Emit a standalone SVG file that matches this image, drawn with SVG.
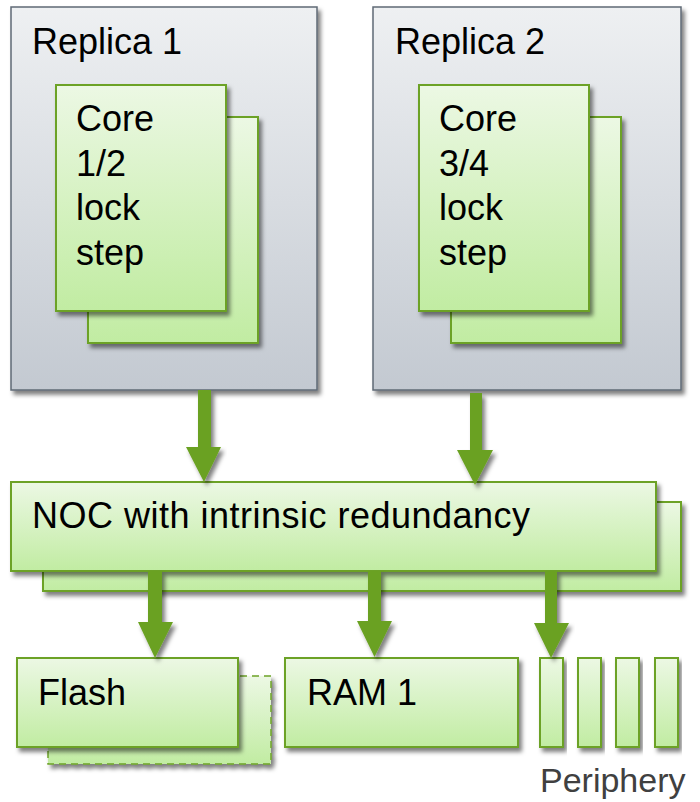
<svg xmlns="http://www.w3.org/2000/svg" width="700" height="802" viewBox="0 0 700 802" font-family="Liberation Sans, Arimo, Arial, Helvetica, sans-serif">
  <defs>
    <linearGradient id="gray" x1="0" y1="0" x2="0" y2="1">
      <stop offset="0" stop-color="#eef0f2"/>
      <stop offset="1" stop-color="#c3c9d1"/>
    </linearGradient>
    <linearGradient id="green" x1="0" y1="0" x2="0" y2="1">
      <stop offset="0" stop-color="#ecf8e4"/>
      <stop offset="1" stop-color="#c1eca2"/>
    </linearGradient>
    <filter id="shadow" x="-10%" y="-10%" width="125%" height="130%">
      <feDropShadow dx="3" dy="4" stdDeviation="2.2" flood-color="#000" flood-opacity="0.5"/>
    </filter>
  </defs>
  <style>
    .replica { fill: url(#gray); stroke: #5f6a75; stroke-width: 1.5; filter: url(#shadow); }
    .block { fill: url(#green); stroke: #6ca226; stroke-width: 2; filter: url(#shadow); }
    .dashed { fill: url(#green); stroke: #6ca226; stroke-width: 1.5; stroke-dasharray: 7 5; filter: url(#shadow); }
    .label { font-size: 36px; fill: #000; }
    .caption { font-size: 34px; fill: #404040; }
    .arrow { fill: #6aa121; filter: url(#shadow); }
  </style>

  <!-- Replica 1 with lock-step core pair -->
  <g id="replica1">
    <rect class="replica" x="11" y="7" width="306" height="383"/>
    <text class="label" x="32" y="54">Replica 1</text>
    <rect class="block" x="88" y="117" width="170" height="226"/>
    <rect class="block" x="56" y="85" width="170" height="226"/>
    <text class="label" x="76" y="131">Core</text>
    <text class="label" x="76" y="176">1/2</text>
    <text class="label" x="76" y="220">lock</text>
    <text class="label" x="76" y="265">step</text>
  </g>

  <!-- Replica 2 with lock-step core pair -->
  <g id="replica2">
    <rect class="replica" x="373" y="7" width="308" height="383"/>
    <text class="label" x="395" y="54">Replica 2</text>
    <rect class="block" x="451" y="117" width="170" height="226"/>
    <rect class="block" x="419" y="85" width="170" height="226"/>
    <text class="label" x="439" y="131">Core</text>
    <text class="label" x="439" y="176">3/4</text>
    <text class="label" x="439" y="220">lock</text>
    <text class="label" x="439" y="265">step</text>
  </g>

  <!-- Network on chip, duplicated -->
  <g id="noc">
    <rect class="block" x="43" y="502" width="638" height="89"/>
    <rect class="block" x="11" y="482" width="645" height="89"/>
    <text class="label" x="32" y="528" textLength="498">NOC with intrinsic redundancy</text>
  </g>

  <!-- Flash with optional second bank -->
  <g id="flash">
    <rect class="dashed" x="48" y="676" width="223" height="88"/>
    <rect class="block" x="17" y="658" width="221" height="89"/>
    <text class="label" x="38" y="705">Flash</text>
  </g>

  <g id="ram1">
    <rect class="block" x="285" y="658" width="233" height="89"/>
    <text class="label" x="307" y="705">RAM 1</text>
  </g>

  <g id="periphery">
    <rect class="block" x="540" y="658" width="23" height="89"/>
    <rect class="block" x="578" y="658" width="23" height="89"/>
    <rect class="block" x="616" y="658" width="23" height="89"/>
    <rect class="block" x="655" y="658" width="23" height="89"/>
    <text class="caption" x="540" y="792">Periphery</text>
  </g>

  <!-- Connectors: block arrows -->
  <g id="connectors">
    <path class="arrow" d="M198,390 H211 V447 H221 L204,482 L186,447 H198 Z"/>
    <path class="arrow" d="M470,393 H482 V450 H493 L475,485 L457,450 H470 Z"/>
    <path class="arrow" d="M148,571 H162 V622 H173 L155,658 L138,622 H148 Z"/>
    <path class="arrow" d="M368,571 H381 V621 H392 L374.5,657 L357,621 H368 Z"/>
    <path class="arrow" d="M545,571 H557 V623 H569 L551,658 L534,623 H545 Z"/>
  </g>
</svg>
